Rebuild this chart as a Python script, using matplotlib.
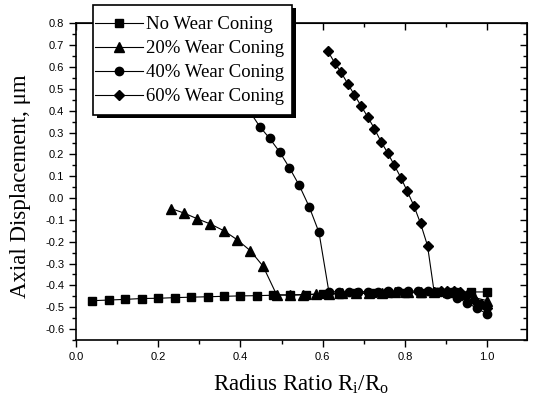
import matplotlib
matplotlib.use("Agg")
import matplotlib.pyplot as plt
from matplotlib.lines import Line2D
from matplotlib.patches import Rectangle
from matplotlib.ticker import MultipleLocator, FormatStrFormatter

plt.rcParams['mathtext.fontset'] = 'custom'
plt.rcParams['mathtext.rm'] = 'Liberation Serif'
plt.rcParams['mathtext.it'] = 'Liberation Serif:italic'

labels = ["No Wear Coning", "20% Wear Coning", "40% Wear Coning", "60% Wear Coning"]
markers = ["s", "^", "o", "D"]

x_none = [0.04, 0.08, 0.12, 0.16, 0.20, 0.24, 0.28, 0.32, 0.36, 0.40, 0.44, 0.48, 0.52,
          0.56, 0.60, 0.64, 0.68, 0.72, 0.76, 0.80, 0.84, 0.88, 0.92, 0.96, 1.00]
y_none = [-0.470, -0.467, -0.464, -0.460, -0.459, -0.456, -0.454, -0.452, -0.450, -0.448,
          -0.447, -0.445, -0.443, -0.442, -0.440, -0.439, -0.437, -0.436, -0.435, -0.434,
          -0.433, -0.432, -0.431, -0.430, -0.430]

x_20 = [0.231, 0.263, 0.295, 0.327, 0.360, 0.392, 0.424, 0.455, 0.488, 0.520, 0.552, 0.584,
        0.616, 0.648, 0.680, 0.712, 0.744, 0.776, 0.808, 0.840, 0.872, 0.904, 0.936, 0.968, 1.000]
y_20 = [-0.048, -0.069, -0.095, -0.119, -0.150, -0.191, -0.241, -0.312, -0.443, -0.445,
        -0.443, -0.440, -0.438, -0.437, -0.435, -0.434, -0.433, -0.432, -0.431, -0.430,
        -0.430, -0.432, -0.440, -0.455, -0.470]

x_40 = [0.423, 0.447, 0.471, 0.495, 0.519, 0.543, 0.567, 0.591, 0.615, 0.639, 0.663, 0.687,
        0.711, 0.735, 0.759, 0.783, 0.807, 0.831, 0.855, 0.879, 0.903, 0.927, 0.951, 0.975, 0.999]
y_40 = [0.395, 0.327, 0.273, 0.212, 0.139, 0.058, -0.039, -0.157, -0.428, -0.430, -0.430,
        -0.429, -0.428, -0.428, -0.427, -0.427, -0.426, -0.426, -0.427, -0.428, -0.440,
        -0.457, -0.480, -0.504, -0.530]

x_60 = [0.613, 0.629, 0.645, 0.661, 0.677, 0.694, 0.710, 0.726, 0.742, 0.758, 0.774, 0.790,
        0.806, 0.822, 0.838, 0.855, 0.871, 0.887, 0.903, 0.919, 0.935, 0.951, 0.967, 0.984, 1.000]
y_60 = [0.671, 0.620, 0.575, 0.523, 0.473, 0.420, 0.370, 0.317, 0.258, 0.207, 0.151, 0.094,
        0.030, -0.036, -0.116, -0.218, -0.428, -0.426, -0.425, -0.425, -0.430, -0.445,
        -0.465, -0.485, -0.505]

series = [(x_none, y_none), (x_20, y_20), (x_40, y_40), (x_60, y_60)]

W, H = 535, 404
fig = plt.figure(figsize=(W/100, H/100), dpi=100)
ax = fig.add_axes([76/W, 1-340/H, (527-76)/W, (340-23.3)/H])

msizes = [5.6, 6.6, 6.0, 5.4]
for (xs, ys), m, ms, lab in zip(series, markers, msizes, labels):
    ax.plot(xs, ys, color='black', lw=0.8, marker=m, ms=ms, mfc='black', mec='black', label=lab)

ax.set_xlim(0.0, 1.097)
ax.set_ylim(-0.65, 0.8)
ax.xaxis.set_major_locator(MultipleLocator(0.2))
ax.xaxis.set_minor_locator(MultipleLocator(0.1))
ax.yaxis.set_major_locator(MultipleLocator(0.1))
ax.yaxis.set_minor_locator(MultipleLocator(0.05))
ax.xaxis.set_major_formatter(FormatStrFormatter('%.1f'))
ax.yaxis.set_major_formatter(FormatStrFormatter('%.1f'))

for sp in ax.spines.values():
    sp.set_linewidth(1.2)

ax.tick_params(which='both', direction='out', top=False, right=False, labelsize=8, width=1.0)
ax.tick_params(which='major', length=5)
ax.tick_params(which='minor', length=3)
for lab in ax.get_xticklabels() + ax.get_yticklabels():
    lab.set_fontfamily('Liberation Sans')

ax2 = ax.secondary_xaxis('top')
ax2.xaxis.set_major_locator(MultipleLocator(0.2))
ax2.xaxis.set_minor_locator(MultipleLocator(0.1))
ax2.tick_params(which='both', direction='in', labeltop=False, width=1.0)
ax2.tick_params(which='major', length=5)
ax2.tick_params(which='minor', length=3)
ax3 = ax.secondary_yaxis('right')
ax3.yaxis.set_major_locator(MultipleLocator(0.1))
ax3.yaxis.set_minor_locator(MultipleLocator(0.05))
ax3.tick_params(which='both', direction='in', labelright=False, width=1.0)
ax3.tick_params(which='major', length=5)
ax3.tick_params(which='minor', length=3)

ax.set_xlabel(r"Radius Ratio R$_{\rm i}$/R$_{\rm o}$", fontfamily='Liberation Serif', fontsize=16.5, labelpad=8)
ax.set_ylabel("Axial Displacement, \u03bcm", fontfamily='Liberation Serif', fontsize=16.5)
ax.yaxis.set_label_coords(-0.10, 0.485)

# legend frame with solid black drop shadow (pixel coordinates of the reference)
fx0, fy0, fx1, fy1 = 93, 5, 292, 115
shadow = Rectangle(((fx0 + 4) / W, 1 - (fy1 + 3) / H), (fx1 - fx0) / W, (fy1 - fy0) / H,
                   transform=fig.transFigure, facecolor='black', edgecolor='black', lw=0, zorder=4)
frame = Rectangle((fx0 / W, 1 - fy1 / H), (fx1 - fx0) / W, (fy1 - fy0) / H,
                  transform=fig.transFigure, facecolor='white', edgecolor='black', lw=1.2, zorder=5)
fig.add_artist(shadow)
fig.add_artist(frame)

handles = [Line2D([], [], color='black', lw=0.8, marker=m, ms=ms, mfc='black', mec='black')
           for m, ms in zip(markers, msizes)]
leg = fig.legend(handles, labels, loc='upper left', bbox_to_anchor=(95 / W, 1 - 16 / H),
                 frameon=False, prop={'family': 'Liberation Serif', 'size': 13.5},
                 handlelength=2.55, handletextpad=0.15, borderpad=0.0, labelspacing=0.37,
                 borderaxespad=0.0)
leg.set_zorder(6)

fig.savefig("out.png", dpi=100)
